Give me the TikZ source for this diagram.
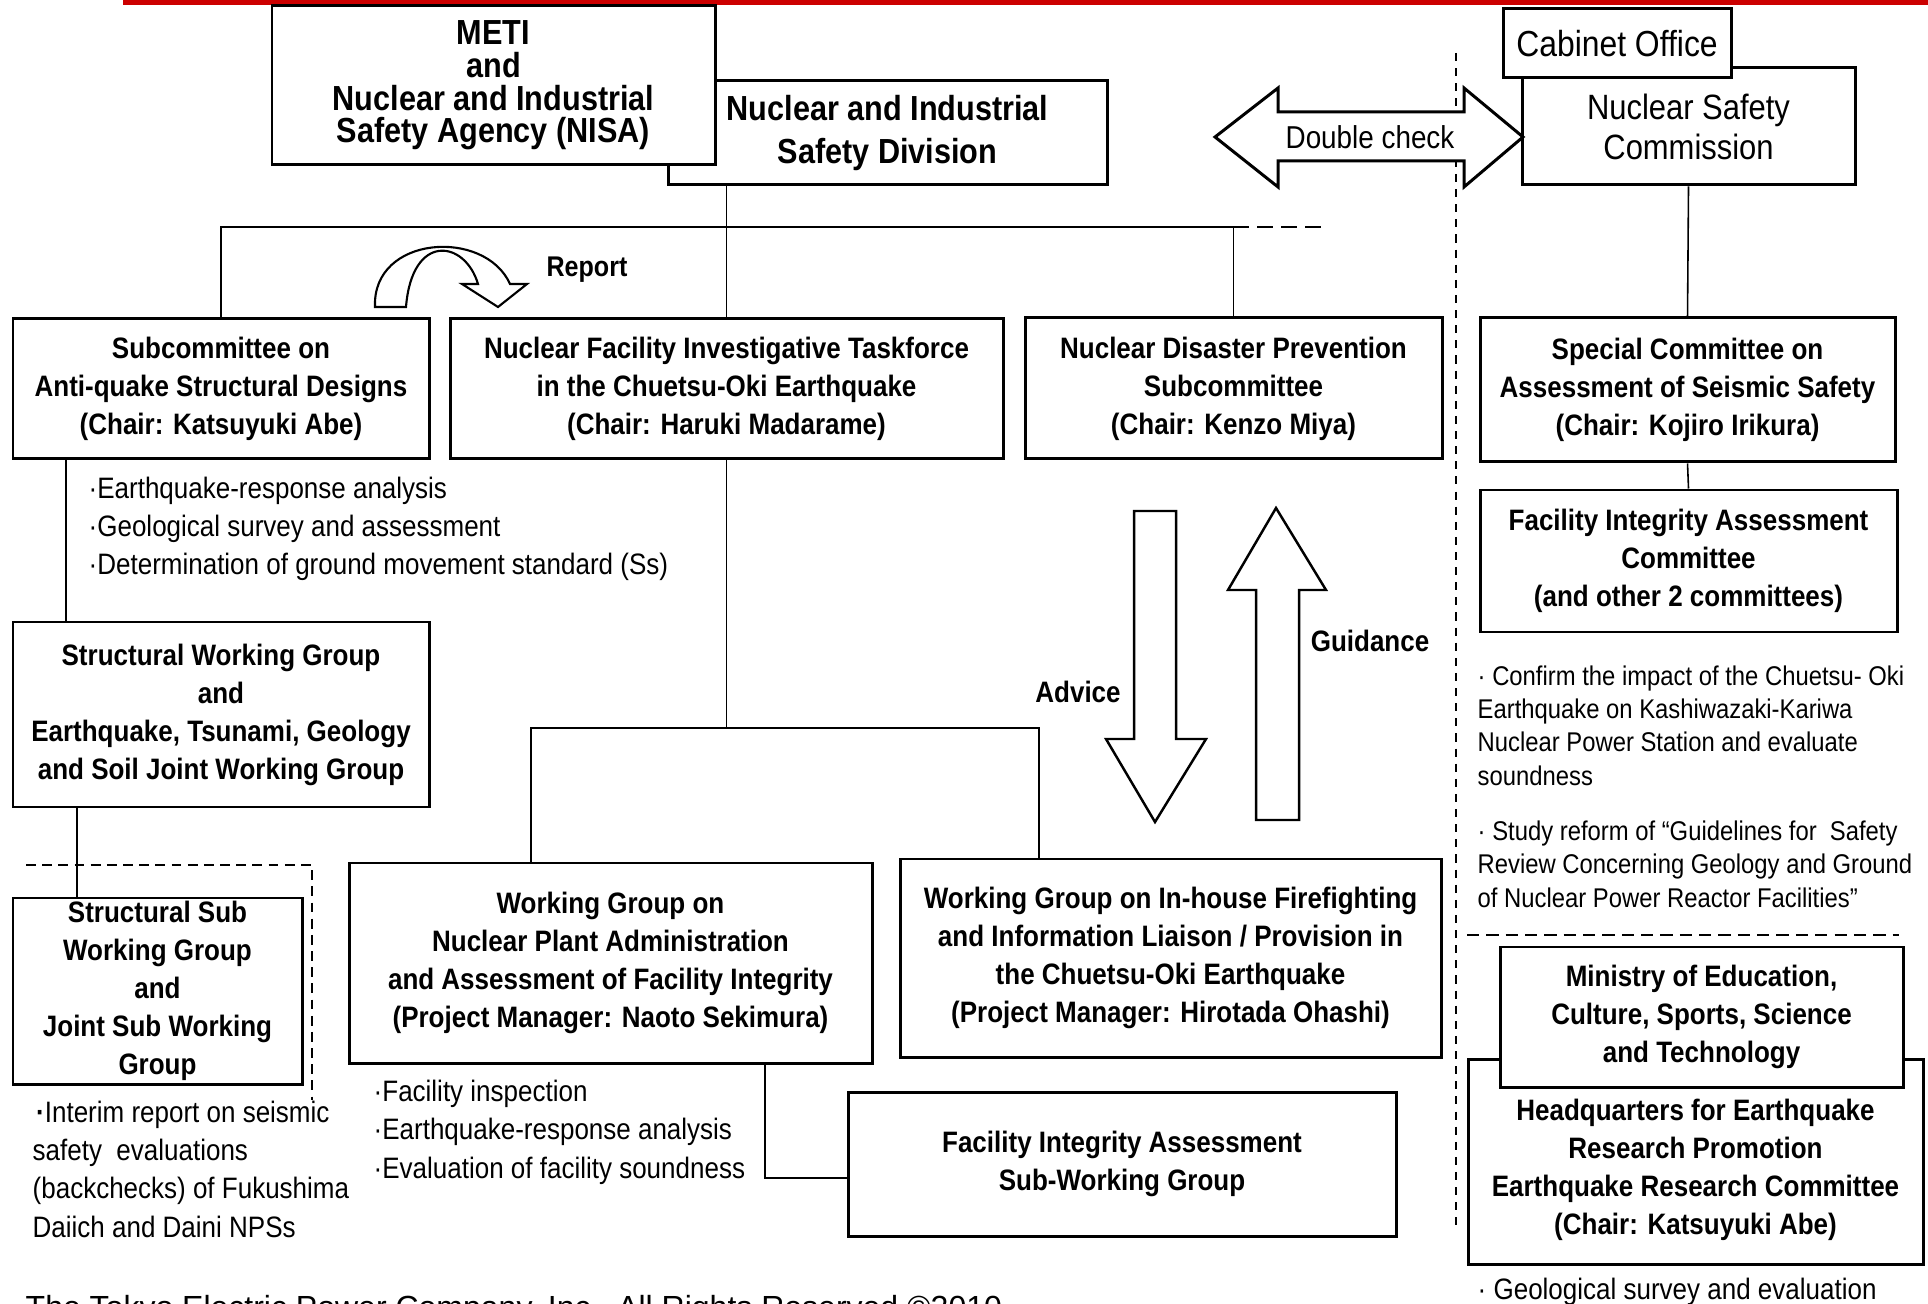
\documentclass[tikz,border=0pt]{standalone}
\usepackage{fontspec}
\setmainfont[FakeStretch=0.88]{Liberation Sans}
\newfontfamily\footfont{Liberation Sans}
\definecolor{barred}{RGB}{204,0,0}
\tikzset{
	box/.style={draw,line width=0.85pt,fill=white,align=center,inner sep=0pt,font=\bfseries\fontsize{8.4}{10.8}\selectfont},
	wh/.style 2 args={minimum width=#1*0.01cm,minimum height=#2*0.01cm},
	link/.style={line width=0.45pt},
	note/.style={align=left,inner sep=0pt,anchor=base west,font=\fontsize{8.4}{10.9}\selectfont},
	blockarrow/.style={draw,fill=white,line width=0.7pt,line join=miter},
}
\begin{document}
\begin{tikzpicture}[x=0.01cm,y=-0.01cm,line join=miter]
	\path[use as bounding box,clip] (0,0) rectangle (1928,1304);
	\fill[barred] (123,0) rectangle (1928,5);
	\draw[line width=0.45pt,dash pattern=on 2.3pt off 2pt] (1456,53) -- (1456,1230);
	\draw[line width=0.55pt,dash pattern=on 3.5pt off 2pt] (1467,935) -- (1899,935);
	\draw[line width=0.55pt,dash pattern=on 2.8pt off 1.8pt] (26,865) -- (312,865) -- (312,1100);
	
	\node[box,wh={439}{104},font=\bfseries\fontsize{9.9}{12.2}\selectfont] (nisd) at (887.5,133) {Nuclear and Industrial\\Safety Division};
	\node[box,wh={443}{159},font=\bfseries\fontsize{9.9}{9.3}\selectfont] (meti) at (493.5,85.5) {METI\\and\\Nuclear and Industrial\\Safety Agency (NISA)};
	\node[box,wh={333}{117},font=\fontsize{10}{11.4}\selectfont] (nsc) at (1688.5,126.5) {Nuclear Safety\\Commission};
	\node[box,wh={228}{69},font=\fontsize{10.3}{12}\selectfont] (cab) at (1617,43.5) {Cabinet Office};
	
	\node[box,wh={416}{140}] (sub) at (221,389) {Subcommittee on\\Anti-quake Structural Designs\\(Chair: Katsuyuki Abe)};
	\node[box,wh={553}{140}] (tf) at (726.5,389) {Nuclear Facility Investigative Taskforce\\in the Chuetsu-Oki Earthquake\\(Chair: Haruki Madarame)};
	\node[box,wh={417}{141}] (ndp) at (1233.5,388.5) {Nuclear Disaster Prevention\\Subcommittee\\(Chair: Kenzo Miya)};
	\node[box,wh={415}{144}] (sca) at (1687.5,390) {Special Committee on\\Assessment of Seismic Safety\\(Chair: Kojiro Irikura)};
	\node[box,wh={417}{142}] (fiac) at (1688.5,561) {Facility Integrity Assessment\\Committee\\(and other 2 committees)};
	\node[box,wh={416}{185}] (swg) at (221,714.5) {Structural Working Group\\and\\Earthquake, Tsunami, Geology\\and Soil Joint Working Group};
	\node[box,wh={289}{186}] (ssub) at (157.5,991) {Structural Sub\\Working Group\\and\\Joint Sub Working\\Group};
	\node[box,wh={523}{200}] (wgn) at (610.5,963) {Working Group on\\Nuclear Plant Administration\\and Assessment of Facility Integrity\\(Project Manager: Naoto Sekimura)};
	\node[box,wh={541}{198}] (wgf) at (1170.5,958) {Working Group on In-house Firefighting\\and Information Liaison / Provision in\\the Chuetsu-Oki Earthquake\\(Project Manager: Hirotada Ohashi)};
	\node[box,wh={548}{144}] (fias) at (1122,1164) {Facility Integrity Assessment\\Sub-Working Group};
	\node[box,wh={455}{205}] (hq) at (1695.5,1161.5) {\\Headquarters for Earthquake\\Research Promotion\\Earthquake Research Committee\\(Chair: Katsuyuki Abe)};
	\node[box,wh={403}{140}] (mext) at (1701.5,1017) {Ministry of Education,\\Culture, Sports, Science\\and Technology};
	
	\coordinate (bus) at (0,227);
	\coordinate (busend) at (1323,227);
	\draw[link] (sub.north) |- (ndp.north |- bus) -- (ndp.north);
	\draw[link,dash pattern=on 4.5pt off 2.3pt] (ndp.north |- bus) -- (busend);
	\draw[link] (nisd.south -| tf.north) -- (tf.north);
	\draw[link] (nsc.south) -- (sca.north);
	\draw[link] (sca.south) -- (fiac.north);
	\coordinate (c1) at (66,0);
	\coordinate (c2) at (77,0);
	\draw[link] (sub.south -| c1) -- (swg.north -| c1);
	\draw[link] (swg.south -| c2) -- (ssub.north -| c2);
	\coordinate (split) at (726.5,728);
	\coordinate (c3) at (531,0);
	\coordinate (c4) at (1039,0);
	\draw[link] (tf.south) -- (split);
	\draw[link] (wgn.north -| c3) |- (split) -| (wgf.north -| c4);
	\coordinate (c5) at (765,1178);
	\draw[link,line width=0.6pt] (wgn.south -| c5) |- (fias.west |- c5);
	
	\draw[blockarrow,line width=0.85pt] (1215,137) -- (1278,88) -- (1278,112) -- (1464,112) -- (1464,88) -- (1523,137) -- (1464,187) -- (1464,161) -- (1278,161) -- (1278,187) -- cycle;
	\node[font=\fontsize{9}{11}\selectfont] (dc) at (1370,137) {Double check};
	\draw[blockarrow,line width=0.6pt] (375,307) .. controls (372,235) and (485,228) .. (510,284) -- (527,284) -- (498,307) -- (462,284) -- (478,284) .. controls (465,240) and (412,232) .. (406,307) -- cycle;
	\node[font=\bfseries\fontsize{8.1}{10}\selectfont] (rep) at (587,270) {Report};
	\draw[blockarrow] (1134,511) -- (1176,511) -- (1176,739) -- (1206,739) -- (1155,822) -- (1106,739) -- (1134,739) -- cycle;
	\draw[blockarrow] (1276,508) -- (1326,590) -- (1299,590) -- (1299,820) -- (1256,820) -- (1256,590) -- (1228,590) -- cycle;
	\node[font=\bfseries\fontsize{8.4}{10}\selectfont] (adv) at (1078,692) {Advice};
	\node[font=\bfseries\fontsize{8.4}{10}\selectfont] (gui) at (1370,641) {Guidance};
	
	\node[note] (n1) at (88,575) {·Earthquake-response analysis\\·Geological survey and assessment\\·Determination of ground movement standard (Ss)};
	\node[note] (n2) at (373,1178) {·Facility inspection\\·Earthquake-response analysis\\·Evaluation of facility soundness};
	\node[note] (n3) at (32,1237) {\hspace*{1pt}\textbf{·}Interim report on seismic\\safety\ \ evaluations\\(backchecks) of Fukushima\\Daiich and Daini NPSs};
	\node[note,font=\fontsize{7.7}{9.4}\selectfont] (n4) at (1477,785) {·\ Confirm the impact of the Chuetsu- Oki\\Earthquake on Kashiwazaki-Kariwa\\Nuclear Power Station and evaluate\\soundness};
	\node[note,font=\fontsize{7.7}{9.4}\selectfont] (n5) at (1477,907) {·\ Study reform of “Guidelines for\ \ Safety\\Review Concerning Geology and Ground\\of Nuclear Power Reactor Facilities”};
	\node[note] (n6) at (1477,1299) {·\ Geological survey and evaluation};
	\node[note,font=\footfont\fontsize{9.1}{11}\selectfont] (foot) at (25,1318) {The Tokyo Electric Power Company, Inc.\ \ All Rights Reserved ©2010};
\end{tikzpicture}
\end{document}
